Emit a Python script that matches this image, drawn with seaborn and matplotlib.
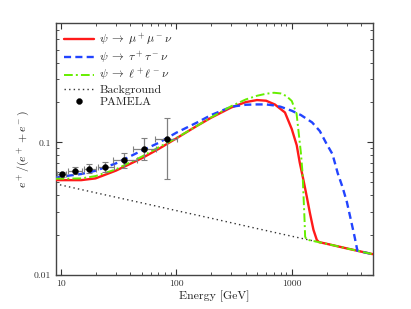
import numpy as np
import pandas as pd
import matplotlib
matplotlib.use("Agg")
import matplotlib.pyplot as plt
import seaborn as sns
from matplotlib.ticker import FixedLocator, FixedFormatter, LogLocator, NullFormatter

# ---------------- data ----------------
red_E = [9, 10, 15, 20, 30, 50, 70, 100, 150, 200, 300, 400, 500, 600, 714, 873,
         1000, 1104, 1170, 1262, 1349, 1437, 1541, 1647, 1720, 2000, 3000, 4000, 5000]
red_y = [0.0520, 0.0519, 0.0519, 0.0535, 0.0612, 0.0757, 0.0890, 0.1071, 0.1327, 0.1533,
         0.1835, 0.2012, 0.2084, 0.2060, 0.1930, 0.1680, 0.1260, 0.0950, 0.0710, 0.0520,
         0.0389, 0.0292, 0.0219, 0.0184, 0.0177, 0.0172, 0.01586, 0.0150, 0.01437]

blue_E = [9, 10, 15, 20, 30, 50, 70, 100, 150, 200, 300, 400, 500, 600, 700, 800, 1000,
          1200, 1500, 1750, 2000, 2250, 2500, 2750, 3000, 3250, 3500, 3700, 4000, 5000]
blue_y = [0.0545, 0.0551, 0.0577, 0.0611, 0.0694, 0.0865, 0.0989, 0.1182, 0.1406, 0.1606,
          0.1856, 0.1921, 0.1932, 0.1932, 0.1899, 0.1856, 0.1731, 0.1606, 0.1414, 0.1216,
          0.0975, 0.0816, 0.0585, 0.0460, 0.0355, 0.0260, 0.0194, 0.01525, 0.0150, 0.01437]

green_E = [9, 10, 15, 20, 30, 50, 70, 100, 150, 200, 300, 400, 500, 600, 700, 800, 900,
           1000, 1100, 1200, 1240, 1265, 1290, 1305, 1340, 2000, 3000, 4000, 5000]
green_y = [0.0532, 0.0532, 0.0535, 0.0557, 0.0626, 0.0779, 0.0916, 0.1077, 0.1327, 0.1541,
           0.1877, 0.2107, 0.2246, 0.2326, 0.2366, 0.2339, 0.2233, 0.2050, 0.1650, 0.0830,
           0.0584, 0.0389, 0.0260, 0.0195, 0.0185, 0.0172, 0.01586, 0.0150, 0.01437]

bg_E = [9, 10, 20, 50, 100, 200, 500, 1000, 2000, 5000]
bg_y = [0.0487, 0.0477, 0.0417, 0.0350, 0.0306, 0.0268, 0.0224, 0.0196, 0.0172, 0.01437]

pam_E = [10.2, 13.2, 17.7, 24.3, 35.6, 53.0, 82.4]
pam_y = [0.0574, 0.0611, 0.0629, 0.0648, 0.0732, 0.0895, 0.106]
pam_lo = [0.0550, 0.0574, 0.0584, 0.0600, 0.0644, 0.0736, 0.0527]
pam_hi = [0.0600, 0.0655, 0.0686, 0.0714, 0.0826, 0.107, 0.152]
pam_Elo = [9.3, 11.6, 15.8, 20.9, 28.4, 42.0, 65.5]
pam_Ehi = [11.1, 15.2, 20.3, 28.7, 45.3, 66.4, 101]

labels = [r"$\psi\;\rightarrow\;\mu^+\mu^-\nu$", r"$\psi\;\rightarrow\;\tau^+\tau^-\nu$",
          r"$\psi\;\rightarrow\;\ell^+\ell^-\nu$", "Background", "PAMELA"]
xticks = [10, 100, 1000]
xticklabels = ["10", "100", "1000"]
yticks = [0.01, 0.1]
yticklabels = ["0.01", "0.1"]

# ---------------- style ----------------
sns.set_style("ticks")
plt.rcParams["font.family"] = ["cmr10", "DejaVu Serif"]
plt.rcParams["mathtext.fontset"] = "cm"
plt.rcParams["axes.formatter.use_mathtext"] = True
plt.rcParams["axes.unicode_minus"] = False

fig = plt.figure(figsize=(4.11, 3.09), dpi=100)
ax = fig.add_axes([55.5 / 411, 34 / 309, (372.5 - 55.5) / 411, (275 - 23.3) / 309])

df_r = pd.DataFrame({"E": red_E, "y": red_y})
df_b = pd.DataFrame({"E": blue_E, "y": blue_y})
df_g = pd.DataFrame({"E": green_E, "y": green_y})
df_bg = pd.DataFrame({"E": bg_E, "y": bg_y})
df_p = pd.DataFrame({"E": pam_E, "y": pam_y})

sns.lineplot(data=df_r, x="E", y="y", ax=ax, color="#ff1a1a", linewidth=1.7,
             sort=False, estimator=None, label=labels[0], zorder=3)
sns.lineplot(data=df_b, x="E", y="y", ax=ax, color="#2244ff", linewidth=1.7,
             linestyle=(0, (3.0, 1.8)), sort=False, estimator=None, label=labels[1], zorder=4)
sns.lineplot(data=df_g, x="E", y="y", ax=ax, color="#66ee00", linewidth=1.4,
             linestyle=(0, (4.5, 1.6, 1.0, 1.6)), sort=False, estimator=None,
             label=labels[2], zorder=5)
sns.lineplot(data=df_bg, x="E", y="y", ax=ax, color="#333333", linewidth=1.0,
             linestyle=(0, (1, 2.3)), sort=False, estimator=None, label=labels[3], zorder=2)

yerr = np.array([np.array(pam_y) - np.array(pam_lo), np.array(pam_hi) - np.array(pam_y)])
xerr = np.array([np.array(pam_E) - np.array(pam_Elo), np.array(pam_Ehi) - np.array(pam_E)])
ax.errorbar(pam_E, pam_y, yerr=yerr, xerr=xerr, fmt="none", ecolor="#808080",
            elinewidth=0.9, capsize=2, capthick=0.8, zorder=6)
sns.scatterplot(data=df_p, x="E", y="y", ax=ax, color="black", s=18, edgecolor="black",
                linewidth=0.3, label=labels[4], zorder=7)

ax.set_xscale("log")
ax.set_yscale("log")
ax.set_xlim(9, 5000)
ax.set_ylim(0.01, 0.79)

ax.xaxis.set_major_locator(FixedLocator(xticks))
ax.xaxis.set_major_formatter(FixedFormatter(xticklabels))
ax.xaxis.set_minor_locator(LogLocator(base=10, subs=np.arange(2, 10)))
ax.xaxis.set_minor_formatter(NullFormatter())
ax.yaxis.set_major_locator(FixedLocator(yticks))
ax.yaxis.set_major_formatter(FixedFormatter(yticklabels))
ax.yaxis.set_minor_locator(LogLocator(base=10, subs=np.arange(2, 10)))
ax.yaxis.set_minor_formatter(NullFormatter())

ax.tick_params(which="both", direction="in", top=True, right=True, colors="#333333",
               labelcolor="#333333", labelsize=7)
ax.tick_params(which="major", length=4, width=0.8)
ax.tick_params(which="minor", length=2, width=0.6)
for s in ax.spines.values():
    s.set_color("#444444")
    s.set_linewidth(1.0)

ax.set_xlabel("Energy [GeV]", fontsize=8.5, color="#222222", labelpad=2)
ax.set_ylabel(r"$e^+/(e^+ + e^-)$", fontsize=8.5, color="#222222", labelpad=1)

leg = ax.legend(loc="upper left", frameon=False, fontsize=8.5, handlelength=2.6,
                handletextpad=0.4, labelspacing=0.12, borderaxespad=0.3,
                bbox_to_anchor=(0.0, 1.0))

fig.savefig("out.png", dpi=100)
